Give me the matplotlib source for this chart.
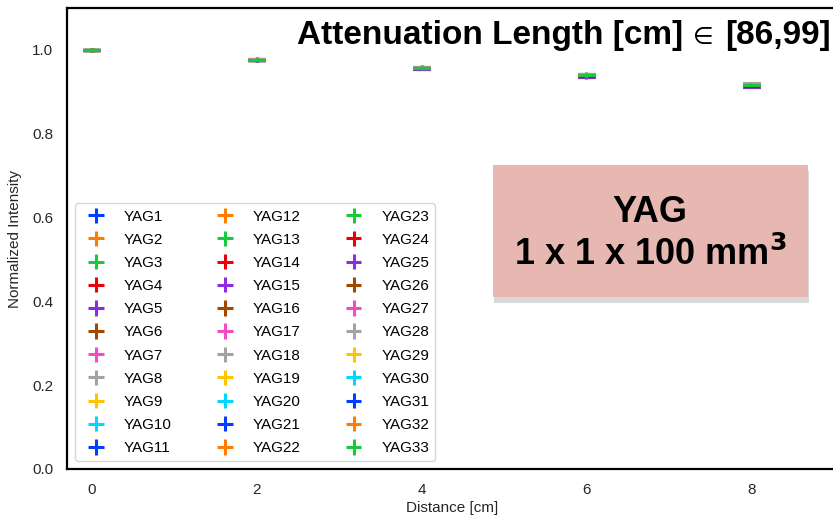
import matplotlib
matplotlib.use("Agg")
import matplotlib.pyplot as plt
import matplotlib.patheffects as pe
from matplotlib.patches import Rectangle
import numpy as np

distances = [0, 2, 4, 6, 8]
names = [f"YAG{i}" for i in range(1, 34)]

i0 = [1.000] * 33
i2 = [0.977, 0.976, 0.978, 0.975, 0.977, 0.976, 0.978, 0.977, 0.976, 0.977, 0.975,
      0.977, 0.978, 0.976, 0.977, 0.975, 0.976, 0.977, 0.978, 0.976, 0.977, 0.976,
      0.978, 0.977, 0.975, 0.976, 0.977, 0.978, 0.976, 0.977, 0.976, 0.977, 0.977]
i4 = [0.957, 0.956, 0.959, 0.955, 0.958, 0.956, 0.960, 0.957, 0.956, 0.958, 0.955,
      0.957, 0.959, 0.956, 0.958, 0.955, 0.957, 0.958, 0.959, 0.956, 0.957, 0.956,
      0.959, 0.957, 0.955, 0.956, 0.958, 0.959, 0.956, 0.957, 0.956, 0.958, 0.958]
i6 = [0.939, 0.937, 0.942, 0.936, 0.940, 0.938, 0.943, 0.939, 0.937, 0.941, 0.935,
      0.939, 0.942, 0.937, 0.940, 0.936, 0.938, 0.941, 0.942, 0.937, 0.939, 0.938,
      0.942, 0.939, 0.936, 0.938, 0.940, 0.943, 0.937, 0.939, 0.938, 0.940, 0.940]
i8 = [0.915, 0.913, 0.919, 0.912, 0.917, 0.914, 0.920, 0.916, 0.913, 0.918, 0.912,
      0.915, 0.919, 0.913, 0.917, 0.912, 0.914, 0.918, 0.919, 0.913, 0.916, 0.914,
      0.919, 0.916, 0.912, 0.914, 0.917, 0.920, 0.913, 0.916, 0.914, 0.917, 0.917]
y_err = 0.004
x_err = 0.1

palette = ["#023eff", "#ff7c00", "#1ac938", "#e8000b", "#8b2be2",
           "#9f4800", "#f14cc1", "#a3a3a3", "#ffc400", "#00d7ff"]

plt.rcParams['font.family'] = ['Liberation Sans', 'DejaVu Sans']

fig = plt.figure(figsize=(8.33, 5.18), dpi=100)
ax = fig.add_axes([67/833, 49/518, 771/833, 461/518])

for k, name in enumerate(names):
    ys = [i0[k], i2[k], i4[k], i6[k], i8[k]]
    ax.errorbar(distances, ys, xerr=x_err, yerr=y_err, fmt='none',
                ecolor=palette[k % 10], elinewidth=2.2, label=name)

ax.set_xlim(-0.3, 9.05)
ax.set_ylim(0, 1.1)
ax.set_xticks([0, 2, 4, 6, 8])
ax.set_yticks([0.0, 0.2, 0.4, 0.6, 0.8, 1.0])
ax.set_yticklabels(["0.0", "0.2", "0.4", "0.6", "0.8", "1.0"])
ax.tick_params(length=0, labelsize=11, labelcolor="#262626", pad=10)
for s in ax.spines.values():
    s.set_linewidth(1.6)
    s.set_color("black")
ax.set_xlabel("Distance [cm]", fontsize=11, color="#262626", labelpad=3)
ax.set_ylabel("Normalized Intensity", fontsize=11, color="#262626", labelpad=7)

leg = ax.legend(ncol=3, loc="lower left", fontsize=11, frameon=True,
                edgecolor="#cccccc", fancybox=True, labelspacing=0.6,
                handlelength=2.0, columnspacing=2.5)
leg.get_frame().set_linewidth(1.0)

# Title assembled from three pieces so the "∈" can be small and light
title_y = 1 - 44/518
renderer = fig.canvas.get_renderer()
t3 = fig.text(831/833, title_y, "[86,99]", ha="right", va="baseline",
              fontsize=24, fontweight="bold")
x3 = t3.get_window_extent(renderer).x0 / fig.bbox.width
t2 = fig.text(x3 - 12/833, title_y, "∈", ha="right", va="baseline",
              fontsize=17, family="DejaVu Sans", fontweight="normal")
x2 = t2.get_window_extent(renderer).x0 / fig.bbox.width
fig.text(x2 - 10/833, title_y, "Attenuation Length [cm]", ha="right", va="baseline",
         fontsize=24, fontweight="bold")

rect = Rectangle((493/833, 1 - 297/518), 315/833, 132/518, transform=fig.transFigure,
                 facecolor="#e6b8b1", edgecolor="none", zorder=5)
rect.set_path_effects([pe.SimplePatchShadow(offset=(1, -4), shadow_rgbFace="#777777", alpha=0.28),
                       pe.Normal()])
fig.add_artist(rect)
fig.text(650/833, 1 - 213/518, "YAG", ha="center", va="center",
         fontsize=26, fontweight="bold", zorder=6)
fig.text(650/833, 1 - 255/518, "1 x 1 x 100 mm$^{\\mathbf{3}}$", ha="center", va="center",
         fontsize=26, fontweight="bold", zorder=6)

fig.savefig("out.png", dpi=100)
